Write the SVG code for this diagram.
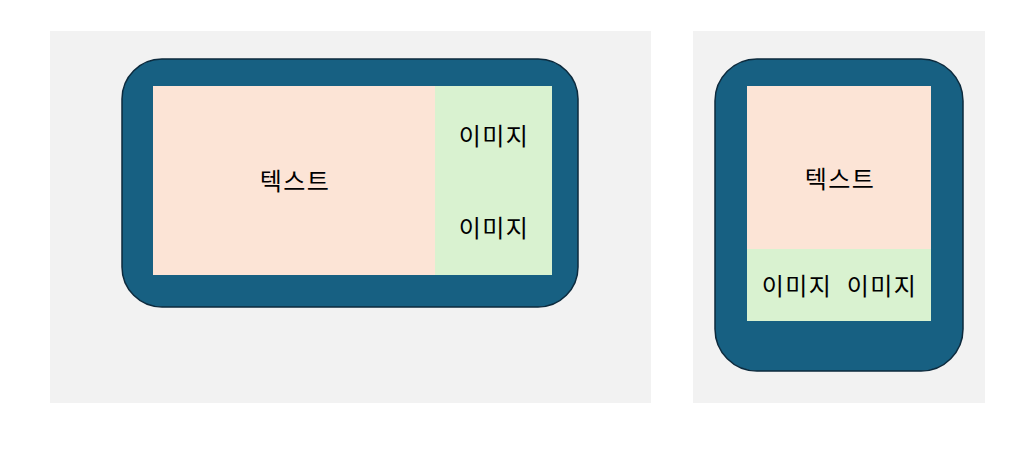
<svg xmlns="http://www.w3.org/2000/svg" width="1028" height="450" viewBox="0 0 1028 450">
<style>
.bg{fill:#f2f2f2}
.dev{fill:#176082;stroke:#0c2a3d;stroke-width:1.5}
.txt{fill:#fce4d6}
.img{fill:#d9f2d0}
text{font-family:"Noto Sans CJK KR","Noto Sans",sans-serif;font-size:24px;letter-spacing:1.5px;fill:#000;text-anchor:middle;dominant-baseline:central}
</style>
<rect width="1028" height="450" fill="#ffffff"/>
<g id="landscape">
<rect class="bg" x="50" y="31" width="601" height="372"/>
<rect class="dev" x="122" y="59" width="456" height="248" rx="40" ry="40"/>
<rect class="txt" x="153" y="86" width="282" height="189"/>
<rect class="img" x="435" y="86" width="117" height="189"/>
<text x="295" y="179">텍스트</text>
<text x="494" y="134">이미지</text>
<text x="494" y="226">이미지</text>
</g>
<g id="portrait">
<rect class="bg" x="693" y="31" width="292" height="372"/>
<rect class="dev" x="715" y="59" width="248" height="312" rx="42" ry="42"/>
<rect class="txt" x="747" y="86" width="184" height="163"/>
<rect class="img" x="747" y="249" width="184" height="72"/>
<text x="840" y="177">텍스트</text>
<text x="797" y="284">이미지</text>
<text x="882" y="284">이미지</text>
</g>
<g id="connectors"></g>
</svg>
